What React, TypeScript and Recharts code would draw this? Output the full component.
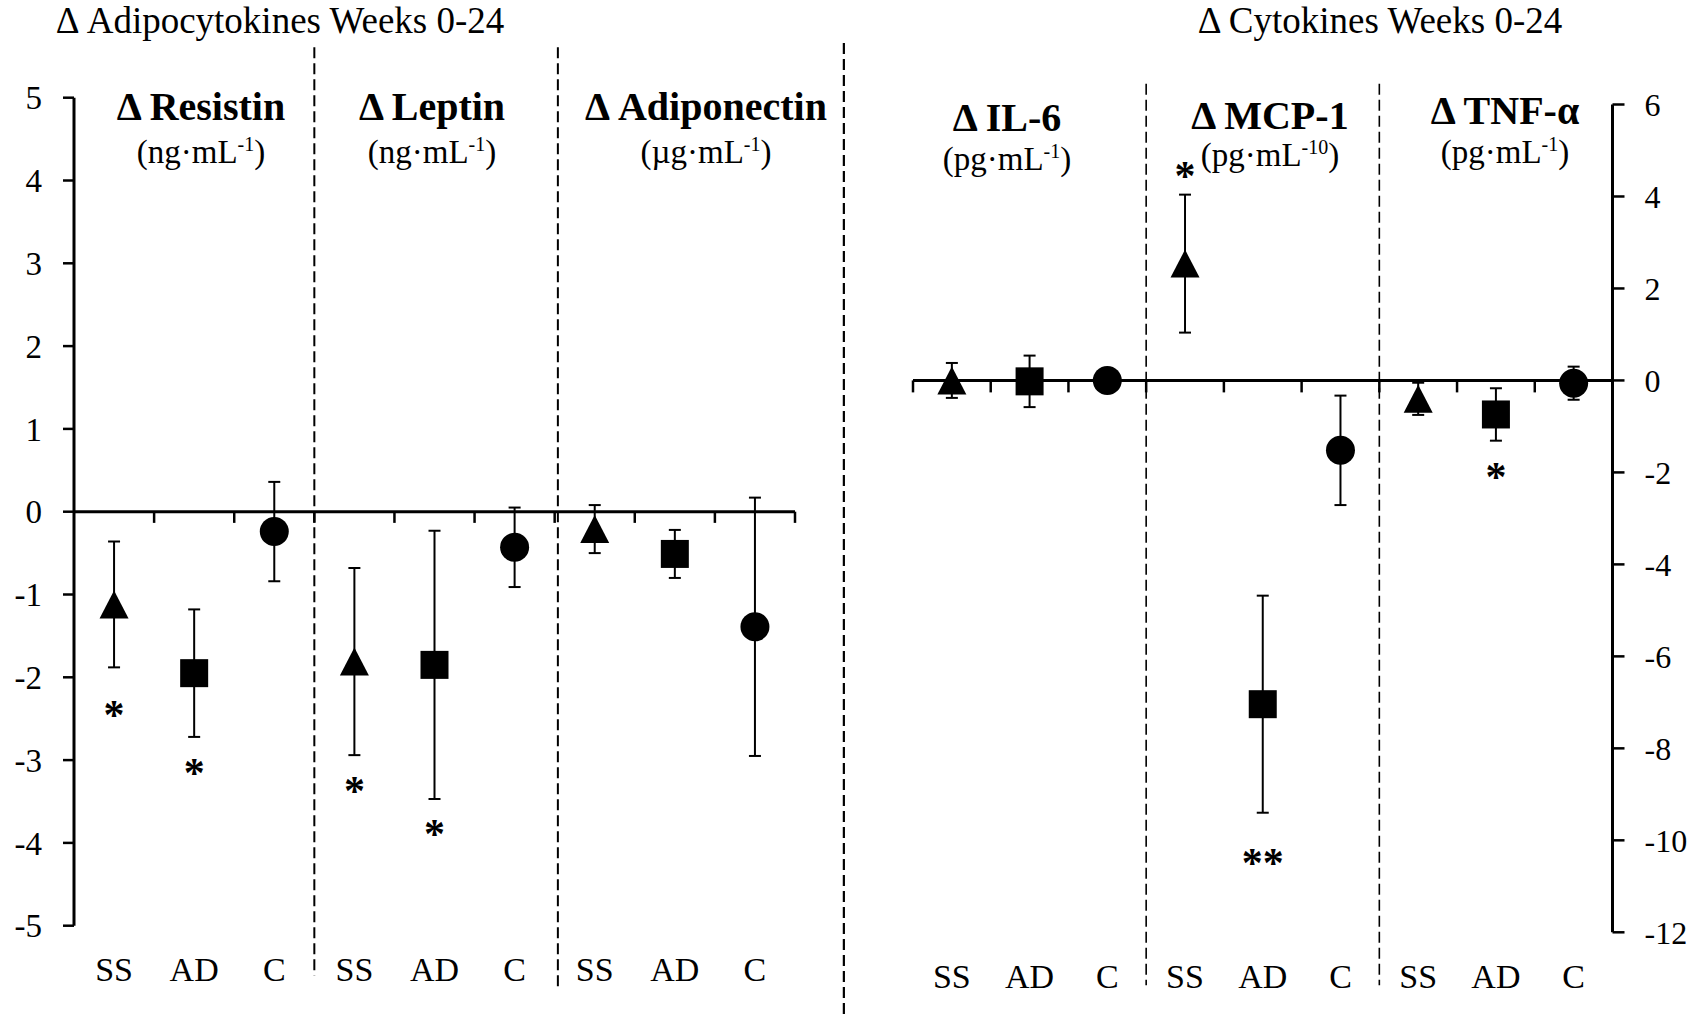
import React from "react";
import {
  ScatterChart,
  Scatter,
  XAxis,
  YAxis,
  ErrorBar,
  ReferenceLine,
} from "recharts";

const FONT = "'Liberation Serif', 'Times New Roman', serif";

// category labels along each panel row
const categories = ["SS", "AD", "C", "SS", "AD", "C", "SS", "AD", "C"];
const adipoPanels = ["Resistin", "Leptin", "Adiponectin"];
const cytoPanels = ["IL-6", "MCP-1", "TNF-α"];

// Δ adipocytokines weeks 0-24 (Resistin, Leptin, Adiponectin)
const adipoSS = [-1.12, -1.81, -0.21];
const adipoSSErr = [0.76, 1.13, 0.29];
const adipoAD = [-1.95, -1.85, -0.51];
const adipoADErr = [0.77, 1.62, 0.29];
const adipoC = [-0.24, -0.43, -1.39];
const adipoCErr = [0.6, 0.48, 1.56];

// Δ cytokines weeks 0-24 (IL-6, MCP-1, TNF-α)
const cytoSS = [0.0, 2.54, -0.4];
const cytoSSErr = [0.38, 1.5, 0.35];
const cytoAD = [-0.02, -7.04, -0.74];
const cytoADErr = [0.56, 2.36, 0.57];
const cytoC = [0.0, -1.52, -0.06];
const cytoCErr = [0.2, 1.19, 0.36];

// significance marks
const adipoSigCat = [0, 1, 3, 4];
const adipoSigY = [-2.39, -3.1, -3.31, -3.83];
const adipoSigText = ["*", "*", "*", "*"];
const cytoSigCat = [3, 4, 7];
const cytoSigY = [4.56, -10.39, -2.0];
const cytoSigText = ["*", "**", "*"];

// axis ticks
const adipoTicks = [5, 4, 3, 2, 1, 0, -1, -2, -3, -4, -5];
const cytoTicks = [6, 4, 2, 0, -2, -4, -6, -8, -10, -12];
const catTicks = [0.5, 1.5, 2.5, 3.5, 4.5, 5.5, 6.5, 7.5, 8.5];
const adipoZeroTicks = [1, 2, 3, 4, 5, 6, 7, 8, 9];
const cytoZeroTicks = [0, 1, 2, 3, 4, 5, 6, 7, 8];
const adipoDividers = [3, 6.04];
const cytoDividers = [3, 6];

const toPoints = (vals: number[], errs: number[], group: number) =>
  vals.map((v, p) => ({ x: p * 3 + group + 0.5, y: v, err: errs[p] }));

const toSig = (cats: number[], ys: number[], texts: string[]) =>
  cats.map((c, i) => ({ x: c + 0.5, y: ys[i], mark: texts[i] }));

const Triangle = (p: any) => (
  <polygon
    points={`${p.cx},${p.cy - 14} ${p.cx - 14.5},${p.cy + 14} ${p.cx + 14.5},${p.cy + 14}`}
    fill="#000"
  />
);
const Square = (p: any) => (
  <rect x={p.cx - 14} y={p.cy - 14} width={28} height={28} fill="#000" />
);
const Dot = (p: any) => <circle cx={p.cx} cy={p.cy} r={14.5} fill="#000" />;
const Star = (p: any) => (
  <text
    x={p.cx}
    y={p.cy + 19}
    textAnchor="middle"
    fontFamily={FONT}
    fontSize={42}
    fontWeight="bold"
    fill="#000"
  >
    {p.payload.mark}
  </text>
);

const catTick = (offset: number) => (props: any) => (
  <text
    x={props.x}
    y={props.y + offset}
    textAnchor="middle"
    fontFamily={FONT}
    fontSize={34}
    fill="#000"
  >
    {categories[Math.floor(props.payload.value)]}
  </text>
);

const errProps = { dataKey: "err", direction: "y" as const, width: 6, stroke: "#000", strokeWidth: 2 };

function AdipoChart() {
  return (
    <ScatterChart
      width={860}
      height={1017}
      margin={{ top: 97.7, right: 65, bottom: 51.3, left: 0 }}
    >
      <XAxis
        type="number"
        dataKey="x"
        domain={[0, 9]}
        allowDataOverflow
        ticks={catTicks}
        tick={catTick(55)}
        tickSize={0}
        tickMargin={0}
        axisLine={false}
        tickLine={false}
        height={40}
      />
      <YAxis
        type="number"
        dataKey="y"
        domain={[-5, 5]}
        allowDataOverflow
        ticks={adipoTicks}
        interval={0}
        width={74}
        tickSize={11}
        tickMargin={21}
        tick={{ fill: "#000", fontSize: 33, fontFamily: FONT }}
        axisLine={{ stroke: "#000", strokeWidth: 3 }}
        tickLine={{ stroke: "#000", strokeWidth: 2.5 }}
      />
      {adipoDividers.map((d) => (
        <ReferenceLine
          key={`d${d}`}
          segment={[{ x: d, y: 5.61 }, { x: d, y: d > 4 ? -5.75 : -5.6 }]}
          ifOverflow="visible"
          stroke="#000"
          strokeWidth={2}
          strokeDasharray="11 5"
        />
      ))}
      <ReferenceLine
        segment={[{ x: 9.61, y: 5.66 }, { x: 9.61, y: -6.3 }]}
        ifOverflow="visible"
        stroke="#000"
        strokeWidth={2.2}
        strokeDasharray="11 5"
      />
      <ReferenceLine y={0} stroke="#000" strokeWidth={3} />
      {adipoZeroTicks.map((t) => (
        <ReferenceLine
          key={`t${t}`}
          segment={[{ x: t, y: 0 }, { x: t, y: -0.135 }]}
          ifOverflow="visible"
          stroke="#000"
          strokeWidth={2.5}
        />
      ))}
      <Scatter data={toPoints(adipoSS, adipoSSErr, 0)} shape={Triangle} isAnimationActive={false}>
        <ErrorBar {...errProps} />
      </Scatter>
      <Scatter data={toPoints(adipoAD, adipoADErr, 1)} shape={Square} isAnimationActive={false}>
        <ErrorBar {...errProps} />
      </Scatter>
      <Scatter data={toPoints(adipoC, adipoCErr, 2)} shape={Dot} isAnimationActive={false}>
        <ErrorBar {...errProps} />
      </Scatter>
      <Scatter
        data={toSig(adipoSigCat, adipoSigY, adipoSigText)}
        shape={Star}
        isAnimationActive={false}
      />
    </ScatterChart>
  );
}

function CytoChart() {
  return (
    <ScatterChart
      width={848}
      height={1017}
      margin={{ top: 104.5, right: 25.5, bottom: 44.7, left: 53 }}
    >
      <XAxis
        type="number"
        dataKey="x"
        domain={[0, 9]}
        allowDataOverflow
        ticks={catTicks}
        tick={catTick(56)}
        tickSize={0}
        tickMargin={0}
        axisLine={false}
        tickLine={false}
        height={40}
      />
      <YAxis
        type="number"
        dataKey="y"
        orientation="right"
        domain={[-12, 6]}
        allowDataOverflow
        ticks={cytoTicks}
        interval={0}
        width={70}
        tickSize={12}
        tickMargin={20}
        tick={{ fill: "#000", fontSize: 32, fontFamily: FONT }}
        axisLine={{ stroke: "#000", strokeWidth: 3 }}
        tickLine={{ stroke: "#000", strokeWidth: 2.5 }}
      />
      {cytoDividers.map((d) => (
        <ReferenceLine
          key={`d${d}`}
          segment={[{ x: d, y: 6.45 }, { x: d, y: -13.15 }]}
          ifOverflow="visible"
          stroke="#000"
          strokeWidth={1.6}
          strokeDasharray="11 5"
        />
      ))}
      <ReferenceLine y={0} stroke="#000" strokeWidth={3} />
      {cytoZeroTicks.map((t) => (
        <ReferenceLine
          key={`t${t}`}
          segment={[{ x: t, y: 0 }, { x: t, y: -0.26 }]}
          ifOverflow="visible"
          stroke="#000"
          strokeWidth={2.5}
        />
      ))}
      <Scatter data={toPoints(cytoSS, cytoSSErr, 0)} shape={Triangle} isAnimationActive={false}>
        <ErrorBar {...errProps} />
      </Scatter>
      <Scatter data={toPoints(cytoAD, cytoADErr, 1)} shape={Square} isAnimationActive={false}>
        <ErrorBar {...errProps} />
      </Scatter>
      <Scatter data={toPoints(cytoC, cytoCErr, 2)} shape={Dot} isAnimationActive={false}>
        <ErrorBar {...errProps} />
      </Scatter>
      <Scatter
        data={toSig(cytoSigCat, cytoSigY, cytoSigText)}
        shape={Star}
        isAnimationActive={false}
      />
    </ScatterChart>
  );
}

// panel headings: name, unit, unit exponent, x centre, baselines
const adipoUnits = ["ng·mL", "ng·mL", "µg·mL"];
const adipoExp = ["-1", "-1", "-1"];
const cytoUnits = ["pg·mL", "pg·mL", "pg·mL"];
const cytoExp = ["-1", "-10", "-1"];
const adipoHeadX = [201, 432, 706];
const cytoHeadX = [1007, 1270, 1505];
const cytoHeadY = [131, 129, 124];
const cytoUnitY = [170, 166, 163];

function Heading({ x, y, uy, name, unit, exp }: any) {
  return (
    <g fontFamily={FONT} fill="#000" textAnchor="middle">
      <text x={x} y={y} fontSize={40} fontWeight="bold">
        {"Δ " + name}
      </text>
      <text x={x} y={uy} fontSize={33}>
        {"(" + unit}
        <tspan fontSize={20} dy={-12}>
          {exp}
        </tspan>
        <tspan dy={12}>)</tspan>
      </text>
    </g>
  );
}

export default function App() {
  return (
    <div
      style={{
        position: "absolute",
        left: 0,
        top: 0,
        width: 1708,
        height: 1017,
        background: "#fff",
        overflow: "hidden",
      }}
    >
      <div style={{ position: "absolute", left: 0, top: 0 }}>
        <AdipoChart />
      </div>
      <div style={{ position: "absolute", left: 860, top: 0 }}>
        <CytoChart />
      </div>
      <svg
        width={1708}
        height={1017}
        style={{ position: "absolute", left: 0, top: 0, pointerEvents: "none" }}
      >
        <text x={280} y={33} fontFamily={FONT} fontSize={37} textAnchor="middle">
          Δ Adipocytokines Weeks 0-24
        </text>
        <text x={1380} y={33} fontFamily={FONT} fontSize={37} textAnchor="middle">
          Δ Cytokines Weeks 0-24
        </text>
        {adipoPanels.map((n, i) => (
          <Heading
            key={n}
            x={adipoHeadX[i]}
            y={120}
            uy={163}
            name={n}
            unit={adipoUnits[i]}
            exp={adipoExp[i]}
          />
        ))}
        {cytoPanels.map((n, i) => (
          <Heading
            key={n}
            x={cytoHeadX[i]}
            y={cytoHeadY[i]}
            uy={cytoUnitY[i]}
            name={n}
            unit={cytoUnits[i]}
            exp={cytoExp[i]}
          />
        ))}
      </svg>
    </div>
  );
}
